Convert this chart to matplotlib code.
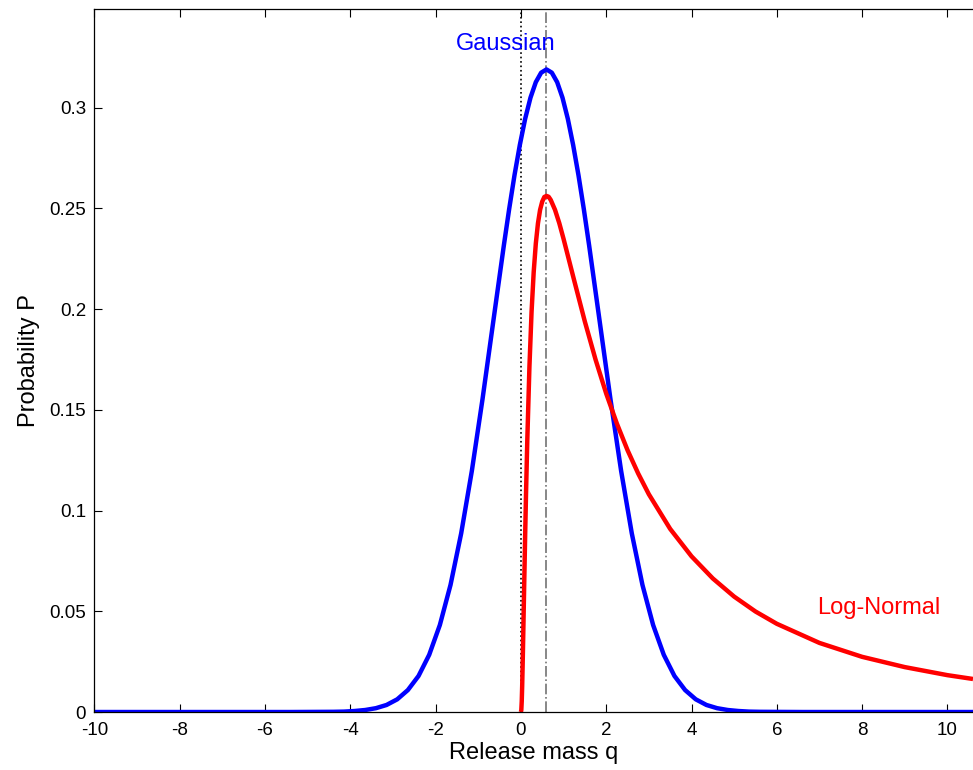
import matplotlib
matplotlib.use("Agg")
import matplotlib.pyplot as plt

plt.rcParams['font.family'] = ['Liberation Sans', 'DejaVu Sans']

# values
gauss_q = [-10, -5.4, -4.4, -4.15, -3.9, -3.65, -3.4, -3.15, -2.9, -2.65,
           -2.4, -2.15, -1.9, -1.65, -1.4, -1.15, -0.9, -0.65, -0.4, -0.275,
           -0.15, -0.025, 0.1, 0.225, 0.35, 0.475, 0.6,
           0.725, 0.85, 0.975, 1.1, 1.225, 1.35, 1.475, 1.6, 1.85, 2.1, 2.35,
           2.6, 2.85, 3.1, 3.35, 3.6, 3.85, 4.1, 4.35, 4.6, 4.85, 5.1, 5.35,
           5.6, 6.6, 10.6]
gauss_p = [0, 0, 0.0001, 0.0002, 0.0005, 0.001, 0.0019, 0.0035, 0.0063,
           0.0109, 0.0179, 0.0284, 0.0432, 0.0631, 0.0887, 0.1197, 0.1553,
           0.1935, 0.2316, 0.2497, 0.2665, 0.2815, 0.2945, 0.305, 0.3127,
           0.3174, 0.319,
           0.3174, 0.3127, 0.305, 0.2945, 0.2815, 0.2665, 0.2497, 0.2316,
           0.1935, 0.1553, 0.1197, 0.0887, 0.0631, 0.0432, 0.0284, 0.0179,
           0.0109, 0.0063, 0.0035, 0.0019, 0.001, 0.0005, 0.0002, 0.0001,
           0, 0]

lognorm_q = [0, 0.01, 0.02, 0.03, 0.04, 0.05, 0.07, 0.1, 0.12, 0.15, 0.2,
             0.25, 0.3, 0.35, 0.4, 0.45, 0.5, 0.55, 0.6, 0.65, 0.7, 0.8, 0.9,
             1.0, 1.25, 1.5, 1.75, 2.0, 2.25, 2.5, 2.75, 3.0, 3.5, 4.0, 4.5,
             5.0, 5.5, 6.0, 7.0, 8.0, 9.0, 10.0, 10.6]
lognorm_p = [0, 0.001, 0.0054, 0.0128, 0.0222, 0.0327, 0.055, 0.0878, 0.1081,
             0.135, 0.1713, 0.1986, 0.2184, 0.2326, 0.2426, 0.2493, 0.2534,
             0.2557, 0.2562, 0.2558, 0.2542, 0.2493, 0.2427, 0.2349, 0.2142,
             0.1938, 0.175, 0.1581, 0.1432, 0.13, 0.1184, 0.1081, 0.0909,
             0.0773, 0.0663, 0.0573, 0.0499, 0.0438, 0.0343, 0.0274, 0.0223,
             0.0183, 0.0164]

mode_q = 0.6
x_ticks = list(range(-10, 11, 2))
y_ticks = [0, 0.05, 0.1, 0.15, 0.2, 0.25, 0.3]
y_labels = ['0', '0.05', '0.1', '0.15', '0.2', '0.25', '0.3']

fig = plt.figure(figsize=(9.73, 7.70), dpi=100)
ax = fig.add_axes([0.097, 0.0753, 0.903, 0.913])

ax.axvline(0, color='black', linestyle=':', linewidth=1.2)
ax.axvline(mode_q, color='0.45', linestyle='-.', linewidth=1.2)
ax.plot(gauss_q, gauss_p, color='#0000ff', linewidth=3.2,
        solid_joinstyle='round', solid_capstyle='butt')
ax.plot(lognorm_q, lognorm_p, color='#ff0000', linewidth=3.2,
        solid_joinstyle='round', solid_capstyle='butt')

ax.text(-0.35, 0.3315, 'Gaussian', color='#0000ff', fontsize=17,
        ha='center', va='center')
ax.text(8.4, 0.0515, 'Log-Normal', color='#ff0000', fontsize=17,
        ha='center', va='center')

ax.set_xlim(-10, 10.6)
ax.set_ylim(0, 0.349)
ax.set_xticks(x_ticks)
ax.set_xticklabels([str(v) for v in x_ticks])
ax.set_yticks(y_ticks)
ax.set_yticklabels(y_labels)
ax.tick_params(direction='in', top=True, right=False, length=6,
               labelsize=13.5)
ax.tick_params(axis='y', pad=6)
ax.tick_params(axis='x', pad=7)
ax.spines['right'].set_visible(False)
for s in ['left', 'bottom', 'top']:
    ax.spines[s].set_linewidth(0.9)

ax.set_xlabel('Release mass q', fontsize=17, labelpad=2)
ax.set_ylabel('Probability P', fontsize=17, labelpad=7)

fig.savefig('out.png', dpi=100)
